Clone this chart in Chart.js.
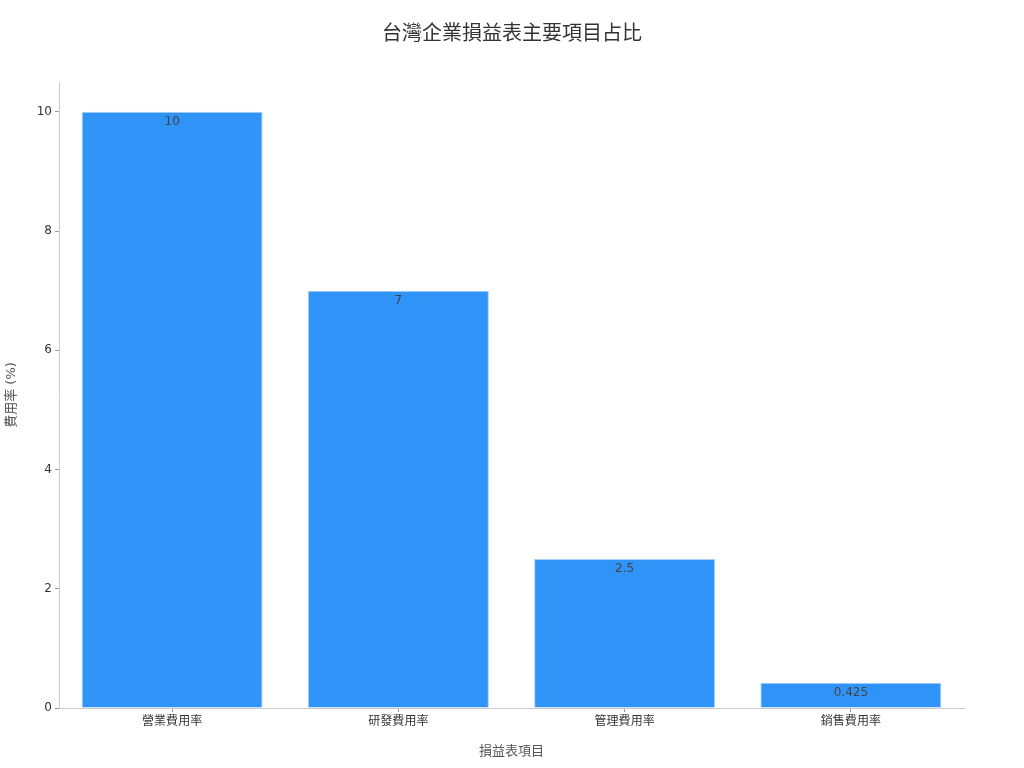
<!DOCTYPE html>
<html>
<head>
<meta charset="utf-8">
<script src="https://cdn.jsdelivr.net/npm/chart.js@4"></script>
<style>
html,body{margin:0;padding:0;background:#fff;}
#wrap{width:1024px;height:768px;}
</style>
</head>
<body>
<div id="wrap"><canvas id="chart" width="1024" height="768"></canvas></div>
<script>
// data
const categories=["營業費用率","研發費用率","管理費用率","銷售費用率"];
const values=[10,7,2.5,0.425];
const yTicks=[0,2,4,6,8,10];
const titleText="台灣企業損益表主要項目占比";

const FONT="'DejaVu Sans','Noto Sans CJK TC','Noto Sans CJK SC',sans-serif";

// title centred on the whole canvas + value labels inside bar tops
const extras={
id:"extras",
afterDraw(chart){
const ctx=chart.ctx;
ctx.save();
ctx.font="20px "+FONT;
ctx.fillStyle="#333";
ctx.textAlign="center";
ctx.textBaseline="middle";
ctx.fillText(titleText,chart.width/2,35);
ctx.restore();
},
afterDatasetsDraw(chart){
const ctx=chart.ctx;
const meta=chart.getDatasetMeta(0);
ctx.save();
ctx.font="12px "+FONT;
ctx.fillStyle="#444";
ctx.textAlign="center";
ctx.textBaseline="top";
meta.data.forEach((bar,i)=>{
ctx.fillText(String(values[i]),bar.x,bar.y+4);
});
ctx.restore();
}
};

new Chart(document.getElementById("chart"),{
type:"bar",
data:{
labels:categories,
datasets:[{
data:values,
backgroundColor:"#2f93f7",
borderColor:"#a9d1f8",
borderWidth:1,
barPercentage:0.8,
categoryPercentage:1
}]
},
options:{
responsive:false,
animation:false,
layout:{padding:{left:0,right:60,top:82,bottom:0}},
plugins:{
legend:{display:false},
tooltip:{enabled:false},
title:{display:false}
},
scales:{
x:{
offset:true,
grid:{display:true,offset:false,drawOnChartArea:false,drawTicks:true,tickLength:4,color:"#999"},
border:{display:true,color:"#ccc"},
ticks:{color:"#333",font:{family:FONT,size:12},padding:3},
title:{display:true,text:"損益表項目",color:"#555",font:{family:FONT,size:13},padding:{top:4,bottom:9}},
afterFit(scale){scale.height=60;}
},
y:{
min:0,
max:10.5,
grid:{display:true,drawOnChartArea:false,drawTicks:true,tickLength:4,color:"#999"},
border:{display:true,color:"#ccc"},
ticks:{color:"#333",font:{family:FONT,size:12},padding:3,stepSize:2,includeBounds:false,
callback:(v)=>yTicks.includes(v)?String(v):""},
title:{display:true,text:"費用率 (%)",color:"#555",font:{family:FONT,size:13},padding:{top:4,bottom:4}},
afterFit(scale){scale.width=59;}
}
}
},
plugins:[extras]
});
</script>
</body>
</html>
